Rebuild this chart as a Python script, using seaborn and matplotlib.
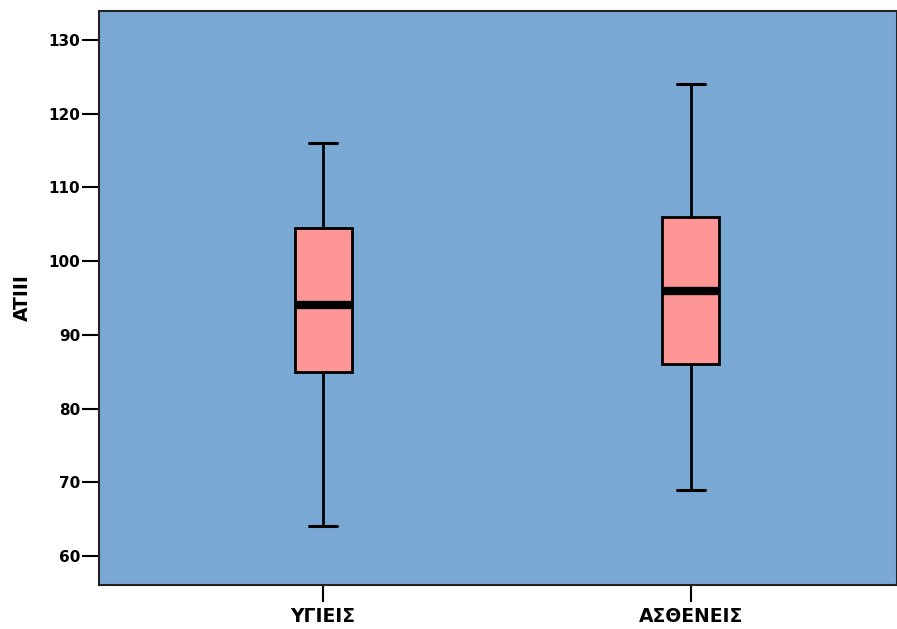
import matplotlib
matplotlib.use("Agg")
import matplotlib.pyplot as plt
import seaborn as sns
import pandas as pd

# Five-number summaries (min whisker, Q1, median, Q3, max whisker) per group
groups = ["ΥΓΙΕΙΣ", "ΑΣΘΕΝΕΙΣ"]
healthy = [64, 85, 94, 104.5, 116]
patients = [69, 86, 96, 106, 124]
yticks = [60, 70, 80, 90, 100, 110, 120, 130]

df = pd.DataFrame({
    "group": [groups[0]] * len(healthy) + [groups[1]] * len(patients),
    "ATIII": healthy + patients,
})

sns.set_style("white")
plt.rcParams["font.family"] = ["DejaVu Sans"]
plt.rcParams["text.color"] = "black"
plt.rcParams["axes.labelcolor"] = "black"
plt.rcParams["xtick.color"] = "black"
plt.rcParams["ytick.color"] = "black"

fig = plt.figure(figsize=(8.97, 6.29), dpi=100)
ax = fig.add_axes([0.1104, 0.07, 0.8896, 0.9125])
ax.set_facecolor("#7aa8d4")

sns.boxplot(
    data=df, x="group", y="ATIII", order=groups, ax=ax,
    width=0.155, whis=(0, 100), color="#ff9696", saturation=1,
    linewidth=2, linecolor="black",
    medianprops=dict(color="black", linewidth=6, solid_capstyle="butt"),
    whiskerprops=dict(color="black", linewidth=2),
    capprops=dict(color="black", linewidth=2.2),
    boxprops=dict(edgecolor="black", linewidth=2),
    showfliers=False,
)

ax.set_xlim(-0.609, 1.56)
ax.set_ylim(56.06, 133.94)
ax.set_yticks(yticks)
ax.set_yticklabels([str(v) for v in yticks], fontsize=11, fontweight="bold", color="black")
ax.set_xticks([0, 1])
ax.set_xticklabels(groups, fontsize=13.5, fontweight="bold", color="black")
ax.set_xlabel("")
ax.set_ylabel("ATIII", fontsize=13.5, fontweight="bold", color="black", labelpad=12)

ax.tick_params(axis="y", direction="out", length=12, width=1.5, color="black", pad=1.5, left=True)
ax.tick_params(axis="x", direction="out", length=12, width=1.5, color="black", pad=4, bottom=True)

for side in ["left", "bottom", "top", "right"]:
    ax.spines[side].set_visible(True)
    ax.spines[side].set_color("#222222")
    ax.spines[side].set_linewidth(1.5)

fig.savefig("out.png", dpi=100, facecolor="white")
